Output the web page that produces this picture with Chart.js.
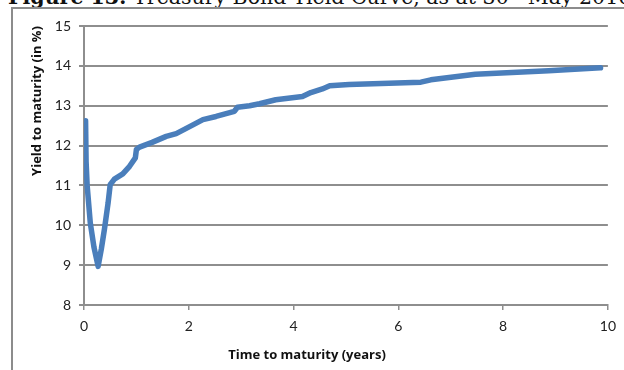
<!DOCTYPE html>
<html>
<head>
<meta charset="utf-8">
<script src="https://cdn.jsdelivr.net/npm/chart.js@4/dist/chart.umd.min.js"></script>
<style>
  html, body { margin: 0; padding: 0; background: #fff; }
  #wrap { position: relative; width: 624px; height: 370px; overflow: hidden; }
  #caption {
    position: absolute; left: 8px; top: -14px; white-space: nowrap;
    font-family: "DejaVu Serif", serif; font-size: 20.5px; line-height: 22px; color: #111;
  }
  #caption sup { font-size: 12px; vertical-align: 7px; line-height: 0; }
  #frame {
    position: absolute; left: 11px; top: 7px; width: 640px; height: 400px;
    border-left: 2px solid #8c8c8c; border-top: 2px solid #8c8c8c;
  }
  canvas { position: absolute; left: 0; top: 0; }
</style>
</head>
<body>
<div id="wrap">
  <div id="caption"><b>Figure 13:</b> Treasury Bond Yield Curve, as at 30<sup>th</sup> May 2016</div>
  <div id="frame"></div>
  <canvas id="c" width="624" height="370"></canvas>
</div>
<script>
// Treasury bond yield curve: term to maturity (years) and yield (%)
const maturityYears = [0.03, 0.04, 0.06, 0.12, 0.19, 0.27, 0.33, 0.39, 0.46, 0.50, 0.58, 0.74, 0.87, 0.98, 1.00, 1.06,
  1.30, 1.57, 1.76, 2.08, 2.27, 2.52, 2.87, 2.93, 3.16, 3.35, 3.66, 4.17, 4.33, 4.55, 4.69,
  5.06, 6.43, 6.62, 7.47, 8.87, 9.86];
const yieldPct = [12.62, 11.60, 11.00, 10.06, 9.45, 8.97, 9.40, 9.90, 10.56, 11.02, 11.16, 11.29, 11.48, 11.69, 11.90, 11.96,
  12.08, 12.23, 12.30, 12.52, 12.65, 12.73, 12.86, 12.96, 13.00, 13.05, 13.15, 13.23, 13.33, 13.42, 13.50,
  13.53, 13.59, 13.65, 13.79, 13.88, 13.95];
const xTicks = [0, 2, 4, 6, 8, 10];
const yTicks = [8, 9, 10, 11, 12, 13, 14, 15];
const xTitle = 'Time to maturity (years)';
const yTitle = 'Yield to maturity (in %)';

const gridColor = '#8e8e8e';
const tickFont = { family: 'Lato, "Open Sans", sans-serif', size: 14 };

// axis titles placed at fixed spots beside the plot
const axisTitles = {
  id: 'axisTitles',
  afterDraw(chart) {
    const { ctx } = chart;
    ctx.save();
    ctx.fillStyle = '#111';
    ctx.font = 'bold 13px "Open Sans", sans-serif';
    ctx.textAlign = 'center';
    ctx.textBaseline = 'alphabetic';
    ctx.fillText(xTitle, 307, 359);
    ctx.translate(41, 101);
    ctx.rotate(-Math.PI / 2);
    ctx.fillText(yTitle, 0, 0);
    ctx.restore();
  }
};

new Chart(document.getElementById('c'), {
  type: 'line',
  data: {
    datasets: [{
      data: maturityYears.map((x, i) => ({ x, y: yieldPct[i] })),
      borderColor: '#4a7ebb',
      borderWidth: 5.5,
      pointRadius: 0,
      tension: 0,
      borderJoinStyle: 'round',
      borderCapStyle: 'round',
      fill: false
    }]
  },
  options: {
    responsive: false,
    animation: false,
    layout: { padding: { top: 26, right: 15, left: 0, bottom: 0 } },
    plugins: { legend: { display: false }, tooltip: { enabled: false }, title: { display: false } },
    scales: {
      x: {
        type: 'linear', min: 0, max: 10,
        afterBuildTicks(s) { s.ticks = xTicks.map(v => ({ value: v })); },
        afterFit(s) { s.height = 65; },
        grid: { drawOnChartArea: false, drawTicks: true, tickLength: 5, color: gridColor, lineWidth: 1.5 },
        border: { color: gridColor, width: 2 },
        ticks: { color: '#222', font: tickFont, padding: 8, maxRotation: 0 }
      },
      y: {
        type: 'linear', min: 8, max: 15,
        afterBuildTicks(s) { s.ticks = yTicks.map(v => ({ value: v })); },
        afterFit(s) { s.width = 84; },
        grid: { drawOnChartArea: true, drawTicks: true, tickLength: 5, color: gridColor, lineWidth: 2 },
        border: { color: gridColor, width: 2 },
        ticks: { color: '#222', font: tickFont, padding: 8 }
      }
    }
  },
  plugins: [axisTitles]
});
</script>
</body>
</html>
